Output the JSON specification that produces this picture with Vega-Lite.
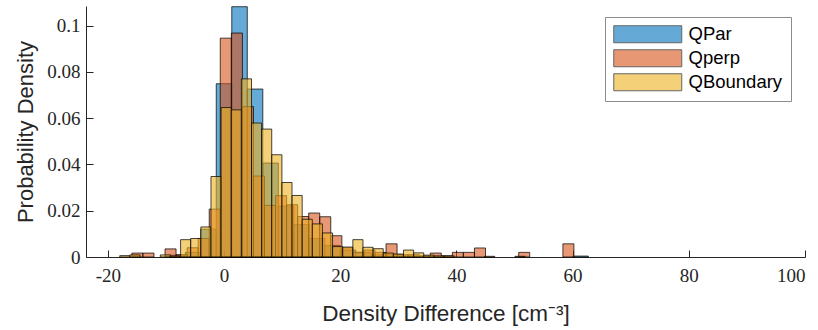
{
  "$schema": "https://vega.github.io/schema/vega-lite/v6.json",
  "width": 719,
  "height": 251,
  "autosize": {"type": "none"},
  "padding": {"left": 86, "top": 6, "right": 13, "bottom": 73},
  "background": "white",
  "config": {
    "view": {"stroke": null},
    "axis": {"grid": false, "domainColor": "#262626", "tickColor": "#262626", "labelColor": "#262626", "titleColor": "#262626"}
  },
  "data": {
    "values": [
      {"s": "QPar", "a": -9.33, "b": -6.66, "v": 0.0008},
      {"s": "QPar", "a": -6.66, "b": -3.99, "v": 0.002},
      {"s": "QPar", "a": -3.99, "b": -1.33, "v": 0.012},
      {"s": "QPar", "a": -1.33, "b": 1.34, "v": 0.0749},
      {"s": "QPar", "a": 1.34, "b": 4.01, "v": 0.1082},
      {"s": "QPar", "a": 4.01, "b": 6.68, "v": 0.0726},
      {"s": "QPar", "a": 6.68, "b": 9.35, "v": 0.0406},
      {"s": "QPar", "a": 9.35, "b": 12.02, "v": 0.022},
      {"s": "QPar", "a": 12.02, "b": 14.68, "v": 0.014},
      {"s": "QPar", "a": 14.68, "b": 17.35, "v": 0.008},
      {"s": "QPar", "a": 17.35, "b": 20.02, "v": 0.005},
      {"s": "QPar", "a": 20.02, "b": 22.69, "v": 0.003},
      {"s": "QPar", "a": 22.69, "b": 25.36, "v": 0.002},
      {"s": "QPar", "a": 25.36, "b": 28.03, "v": 0.001},
      {"s": "QPar", "a": 28.03, "b": 30.7, "v": 0.001},
      {"s": "QPar", "a": 30.7, "b": 33.36, "v": 0.0005},
      {"s": "QPar", "a": 60.04, "b": 62.71, "v": 0.0004},

      {"s": "Qperp", "a": -15.85, "b": -13.95, "v": 0.0017},
      {"s": "Qperp", "a": -13.95, "b": -12.05, "v": 0.0017},
      {"s": "Qperp", "a": -10.15, "b": -8.25, "v": 0.0035},
      {"s": "Qperp", "a": -8.25, "b": -6.35, "v": 0.001},
      {"s": "Qperp", "a": -6.35, "b": -4.44, "v": 0.004},
      {"s": "Qperp", "a": -4.44, "b": -2.54, "v": 0.008},
      {"s": "Qperp", "a": -2.54, "b": -0.64, "v": 0.0207},
      {"s": "Qperp", "a": -0.64, "b": 1.27, "v": 0.0946},
      {"s": "Qperp", "a": 1.27, "b": 3.17, "v": 0.0968},
      {"s": "Qperp", "a": 3.17, "b": 5.07, "v": 0.065},
      {"s": "Qperp", "a": 5.07, "b": 6.97, "v": 0.035},
      {"s": "Qperp", "a": 6.97, "b": 8.87, "v": 0.0223},
      {"s": "Qperp", "a": 8.87, "b": 10.78, "v": 0.0265},
      {"s": "Qperp", "a": 10.78, "b": 12.68, "v": 0.0226},
      {"s": "Qperp", "a": 12.68, "b": 14.58, "v": 0.0175},
      {"s": "Qperp", "a": 14.58, "b": 16.48, "v": 0.019},
      {"s": "Qperp", "a": 16.48, "b": 18.38, "v": 0.0174},
      {"s": "Qperp", "a": 18.38, "b": 20.29, "v": 0.0092},
      {"s": "Qperp", "a": 20.29, "b": 22.19, "v": 0.004},
      {"s": "Qperp", "a": 22.19, "b": 24.09, "v": 0.002},
      {"s": "Qperp", "a": 24.09, "b": 25.99, "v": 0.003},
      {"s": "Qperp", "a": 25.99, "b": 27.89, "v": 0.002},
      {"s": "Qperp", "a": 27.89, "b": 29.79, "v": 0.0057},
      {"s": "Qperp", "a": 29.79, "b": 31.7, "v": 0.001},
      {"s": "Qperp", "a": 31.7, "b": 33.6, "v": 0.001},
      {"s": "Qperp", "a": 33.6, "b": 35.5, "v": 0.0005},
      {"s": "Qperp", "a": 35.5, "b": 37.4, "v": 0.0017},
      {"s": "Qperp", "a": 37.4, "b": 39.3, "v": 0.0005},
      {"s": "Qperp", "a": 39.3, "b": 41.2, "v": 0.002},
      {"s": "Qperp", "a": 41.2, "b": 43.11, "v": 0.002},
      {"s": "Qperp", "a": 43.11, "b": 45.01, "v": 0.0039},
      {"s": "Qperp", "a": 50.72, "b": 52.62, "v": 0.002},
      {"s": "Qperp", "a": 58.33, "b": 60.23, "v": 0.0057},

      {"s": "QBoundary", "a": -17.94, "b": -16.2, "v": 0.0006},
      {"s": "QBoundary", "a": -16.2, "b": -14.45, "v": 0.0009},
      {"s": "QBoundary", "a": -10.96, "b": -9.22, "v": 0.0009},
      {"s": "QBoundary", "a": -9.22, "b": -7.47, "v": 0.0004},
      {"s": "QBoundary", "a": -7.47, "b": -5.73, "v": 0.0075},
      {"s": "QBoundary", "a": -5.73, "b": -3.98, "v": 0.008},
      {"s": "QBoundary", "a": -3.98, "b": -2.24, "v": 0.013},
      {"s": "QBoundary", "a": -2.24, "b": -0.5, "v": 0.0348},
      {"s": "QBoundary", "a": -0.5, "b": 1.25, "v": 0.0646},
      {"s": "QBoundary", "a": 1.25, "b": 2.99, "v": 0.0636},
      {"s": "QBoundary", "a": 2.99, "b": 4.74, "v": 0.077},
      {"s": "QBoundary", "a": 4.74, "b": 6.48, "v": 0.0579},
      {"s": "QBoundary", "a": 6.48, "b": 8.22, "v": 0.0553},
      {"s": "QBoundary", "a": 8.22, "b": 9.97, "v": 0.0442},
      {"s": "QBoundary", "a": 9.97, "b": 11.71, "v": 0.0322},
      {"s": "QBoundary", "a": 11.71, "b": 13.46, "v": 0.0266},
      {"s": "QBoundary", "a": 13.46, "b": 15.2, "v": 0.0163},
      {"s": "QBoundary", "a": 15.2, "b": 16.94, "v": 0.0143},
      {"s": "QBoundary", "a": 16.94, "b": 18.69, "v": 0.0104},
      {"s": "QBoundary", "a": 18.69, "b": 20.43, "v": 0.0045},
      {"s": "QBoundary", "a": 20.43, "b": 22.18, "v": 0.0043},
      {"s": "QBoundary", "a": 22.18, "b": 23.92, "v": 0.0075},
      {"s": "QBoundary", "a": 23.92, "b": 25.66, "v": 0.0042},
      {"s": "QBoundary", "a": 25.66, "b": 27.41, "v": 0.0036},
      {"s": "QBoundary", "a": 27.41, "b": 29.15, "v": 0.0017},
      {"s": "QBoundary", "a": 29.15, "b": 30.9, "v": 0.0013},
      {"s": "QBoundary", "a": 30.9, "b": 32.64, "v": 0.003},
      {"s": "QBoundary", "a": 32.64, "b": 34.38, "v": 0.0018},
      {"s": "QBoundary", "a": 34.38, "b": 36.13, "v": 0.0008},
      {"s": "QBoundary", "a": 36.13, "b": 37.87, "v": 0.0005},
      {"s": "QBoundary", "a": 37.87, "b": 39.62, "v": 0.0005},
      {"s": "QBoundary", "a": 44.85, "b": 46.6, "v": 0.0003},
      {"s": "QBoundary", "a": 50.08, "b": 51.82, "v": 0.0003}
    ]
  },
  "mark": {"type": "bar", "fillOpacity": 0.6, "stroke": "#000000", "strokeWidth": 0.8, "strokeOpacity": 0.9},
  "encoding": {
    "x": {
      "field": "a", "type": "quantitative",
      "scale": {"domain": [-23.75, 100], "nice": false, "zero": false},
      "axis": {
        "values": [-20, 0, 20, 40, 60, 80, 100],
        "labelExpr": "'' + datum.value",
        "tickSize": -7, "labelPadding": 16,
        "labelFont": "Liberation Serif", "labelFontSize": 19,
        "title": "Density Difference [cm⁻³]",
        "titleFont": "Liberation Sans", "titleFontSize": 22.5, "titleFontWeight": "normal",
        "titleBaseline": "middle", "titleY": 56
      }
    },
    "x2": {"field": "b"},
    "y": {
      "field": "v", "type": "quantitative", "stack": null,
      "scale": {"domain": [0, 0.1085], "nice": false},
      "axis": {
        "values": [0, 0.02, 0.04, 0.06, 0.08, 0.1],
        "labelExpr": "'' + datum.value",
        "tickSize": -7, "labelPadding": 13,
        "labelFont": "Liberation Serif", "labelFontSize": 19,
        "title": "Probability Density",
        "titleFont": "Liberation Sans", "titleFontSize": 22, "titleFontWeight": "normal",
        "titleBaseline": "middle", "titleX": -61, "titleY": 125.5
      }
    },
    "y2": {"datum": 0},
    "color": {
      "field": "s", "type": "nominal",
      "scale": {"domain": ["QPar", "Qperp", "QBoundary"], "range": ["#0072BD", "#D95319", "#EDB120"]},
      "legend": {
        "title": null, "orient": "none", "legendX": 519, "legendY": 11,
        "symbolType": "M-1,-1H7V1H-1Z", "symbolSize": 289,
        "symbolOpacity": 0.6, "symbolStrokeColor": "#000000", "symbolStrokeWidth": 1,
        "labelFont": "Liberation Sans", "labelFontSize": 18.5, "labelColor": "#000000",
        "labelOffset": 57, "rowPadding": 2, "padding": 8,
        "strokeColor": "#8c8c8c", "fillColor": "#ffffff"
      }
    }
  }
}
